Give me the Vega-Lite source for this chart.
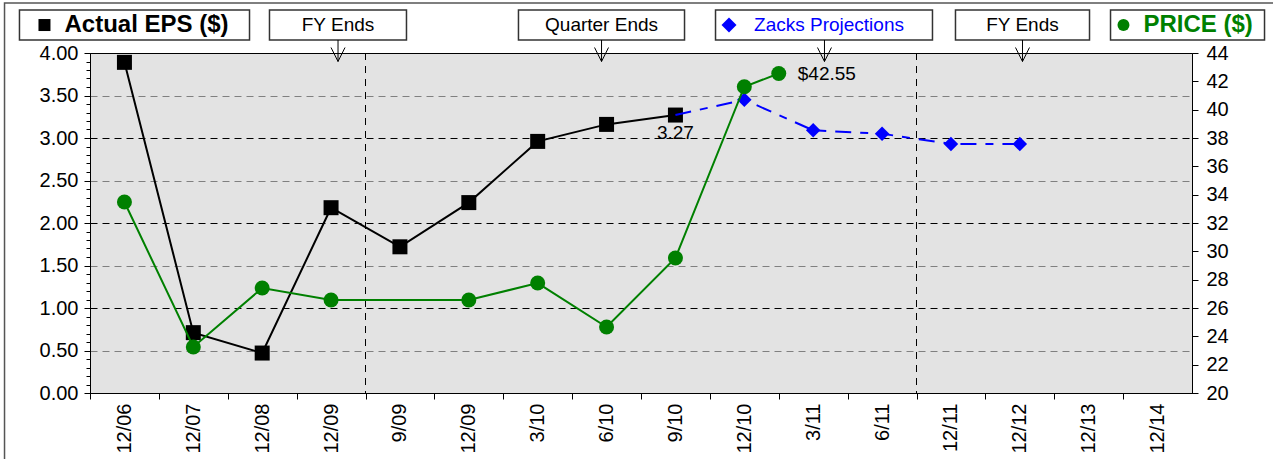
{
  "$schema": "https://vega.github.io/schema/vega-lite/v6.json",
  "width": 1102,
  "height": 340,
  "autosize": "none",
  "padding": {"left": 90, "top": 53, "right": 81, "bottom": 66},
  "background": "white",
  "config": {
    "font": "Liberation Sans",
    "view": {"fill": "#e3e3e3", "stroke": "black", "strokeWidth": 1},
    "axis": {"labelFont": "Liberation Sans", "labelColor": "black", "labelFontSize": 20, "tickColor": "black", "domainColor": "black", "title": null}
  },
  "encoding": {
    "x": {
      "field": "i",
      "type": "quantitative",
      "scale": {"domain": [-0.5, 15.5], "nice": false, "zero": false},
      "axis": {
        "values": [0, 1, 2, 3, 4, 5, 6, 7, 8, 9, 10, 11, 12, 13, 14, 15],
        "labelExpr": "['12/06','12/07','12/08','12/09','9/09','12/09','3/10','6/10','9/10','12/10','3/11','6/11','12/11','12/12','12/13','12/14'][datum.value]",
        "labelAngle": 270,
        "labelAlign": "right",
        "labelBaseline": "middle",
        "labelPadding": 4,
        "tickSize": 6,
        "tickOffset": -34.4375,
        "labelOffset": 34.4375,
        "grid": false,
        "domain": true
      }
    }
  },
  "layer": [
    {
      "data": {"values": [{"i": 3.5}, {"i": 11.5}]},
      "mark": {"type": "rule", "color": "black", "strokeWidth": 1, "strokeDash": [7, 6]},
      "encoding": {}
    },
    {
      "data": {"values": [
        {"i": 0, "v": 3.89}, {"i": 1, "v": 0.71}, {"i": 2, "v": 0.47}, {"i": 3, "v": 2.18},
        {"i": 4, "v": 1.72}, {"i": 5, "v": 2.24}, {"i": 6, "v": 2.96}, {"i": 7, "v": 3.16}, {"i": 8, "v": 3.27}
      ]},
      "mark": {"type": "line", "color": "black", "strokeWidth": 2},
      "encoding": {
        "y": {
          "field": "v", "type": "quantitative",
          "scale": {"domain": [0, 4], "nice": false, "zero": false},
          "axis": {
            "orient": "left",
            "values": [0, 0.5, 1, 1.5, 2, 2.5, 3, 3.5, 4],
            "format": ".2f",
            "tickSize": 6,
            "labelPadding": 6,
            "grid": true,
            "gridDash": [7, 5],
            "gridWidth": 1,
            "gridColor": {"condition": {"test": "datum.value % 1 === 0", "value": "black"}, "value": "#808080"}
          }
        }
      }
    },
    {
      "data": {"values": [
        {"i": 0, "v": 3.89}, {"i": 1, "v": 0.71}, {"i": 2, "v": 0.47}, {"i": 3, "v": 2.18},
        {"i": 4, "v": 1.72}, {"i": 5, "v": 2.24}, {"i": 6, "v": 2.96}, {"i": 7, "v": 3.16}, {"i": 8, "v": 3.27}
      ]},
      "mark": {"type": "point", "shape": "square", "filled": true, "color": "black", "size": 225, "opacity": 1},
      "encoding": {
        "y": {
          "field": "v", "type": "quantitative",
          "scale": {"domain": [0, 4], "nice": false, "zero": false},
          "axis": {
            "orient": "left",
            "values": [0.1, 0.2, 0.3, 0.4, 0.6, 0.7, 0.8, 0.9, 1.1, 1.2, 1.3, 1.4, 1.6, 1.7, 1.8, 1.9, 2.1, 2.2, 2.3, 2.4, 2.6, 2.7, 2.8, 2.9, 3.1, 3.2, 3.3, 3.4, 3.6, 3.7, 3.8, 3.9],
            "labels": false,
            "tickSize": 4,
            "domain": false,
            "grid": false
          }
        }
      }
    },
    {
      "data": {"values": [
        {"i": 8, "v": 3.27}, {"i": 9, "v": 3.45}, {"i": 10, "v": 3.09}, {"i": 11, "v": 3.05}, {"i": 12, "v": 2.93}, {"i": 13, "v": 2.93}
      ]},
      "mark": {"type": "line", "color": "#0000ff", "strokeWidth": 2, "strokeDash": [16, 9, 8, 9]},
      "encoding": {"y": {"field": "v", "type": "quantitative", "scale": {"domain": [0, 4], "nice": false, "zero": false}, "axis": null}}
    },
    {
      "data": {"values": [
        {"i": 9, "v": 3.45}, {"i": 10, "v": 3.09}, {"i": 11, "v": 3.05}, {"i": 12, "v": 2.93}, {"i": 13, "v": 2.93}
      ]},
      "mark": {"type": "point", "shape": "diamond", "filled": true, "color": "#0000ff", "size": 210, "opacity": 1},
      "encoding": {"y": {"field": "v", "type": "quantitative", "scale": {"domain": [0, 4], "nice": false, "zero": false}, "axis": null}}
    },
    {
      "data": {"values": [
        {"i": 0, "v": 33.48}, {"i": 1, "v": 23.25}, {"i": 2, "v": 27.41}, {"i": 3, "v": 26.56}, {"i": 5, "v": 26.56},
        {"i": 6, "v": 27.76}, {"i": 7, "v": 24.66}, {"i": 8, "v": 29.53}, {"i": 9, "v": 41.62}, {"i": 9.5, "v": 42.55}
      ]},
      "mark": {"type": "line", "color": "#008000", "strokeWidth": 2},
      "encoding": {
        "y": {
          "field": "v", "type": "quantitative",
          "scale": {"domain": [20, 44], "nice": false, "zero": false},
          "axis": {
            "orient": "right",
            "values": [20, 22, 24, 26, 28, 30, 32, 34, 36, 38, 40, 42, 44],
            "tickSize": 6,
            "labelPadding": 8,
            "grid": false
          }
        }
      }
    },
    {
      "data": {"values": [
        {"i": 0, "v": 33.48}, {"i": 1, "v": 23.25}, {"i": 2, "v": 27.41}, {"i": 3, "v": 26.56}, {"i": 5, "v": 26.56},
        {"i": 6, "v": 27.76}, {"i": 7, "v": 24.66}, {"i": 8, "v": 29.53}, {"i": 9, "v": 41.62}, {"i": 9.5, "v": 42.55}
      ]},
      "mark": {"type": "point", "shape": "circle", "filled": true, "color": "#008000", "size": 225, "opacity": 1},
      "encoding": {"y": {"field": "v", "type": "quantitative", "scale": {"domain": [20, 44], "nice": false, "zero": false}, "axis": null}}
    },
    {
      "data": {"values": [{"i": 9.5, "v": 42.55, "t": "$42.55"}]},
      "mark": {"type": "text", "font": "Liberation Sans", "fontSize": 19, "color": "black", "align": "left", "baseline": "middle", "dx": 19},
      "encoding": {
        "y": {"field": "v", "type": "quantitative", "scale": {"domain": [20, 44], "nice": false, "zero": false}, "axis": null},
        "text": {"field": "t"}
      }
    },
    {
      "data": {"values": [{"i": 8, "v": 3.27, "t": "3.27"}]},
      "mark": {"type": "text", "font": "Liberation Sans", "fontSize": 19, "color": "black", "align": "center", "baseline": "middle", "dy": 18},
      "encoding": {
        "y": {"field": "v", "type": "quantitative", "scale": {"domain": [0, 4], "nice": false, "zero": false}, "axis": null},
        "text": {"field": "t"}
      }
    },
    {
      "data": {"values": [{"i": -1.741, "i2": 17.5}]},
      "mark": {"type": "rect", "fill": null, "fillOpacity": 0, "stroke": "#555555", "strokeWidth": 1.5},
      "encoding": {
        "x2": {"field": "i2"},
        "y": {"datum": 4.588, "type": "quantitative", "scale": {"domain": [0, 4], "nice": false, "zero": false}, "axis": null},
        "y2": {"datum": -1.2}
      }
    },
    {
      "data": {"values": [
        {"i": -1.524, "i2": 1.816}, {"i": 2.106, "i2": 4.095}, {"i": 5.721, "i2": 8.132},
        {"i": 8.582, "i2": 11.732}, {"i": 12.066, "i2": 14.012}, {"i": 14.317, "i2": 16.553}
      ]},
      "mark": {"type": "rect", "fill": "white", "stroke": "#333333", "strokeWidth": 1.5},
      "encoding": {
        "x2": {"field": "i2"},
        "y": {"datum": 4.506, "type": "quantitative", "scale": {"domain": [0, 4], "nice": false, "zero": false}, "axis": null},
        "y2": {"datum": 4.153}
      }
    },
    {
      "data": {"values": [{"i": 3.101}, {"i": 6.927}, {"i": 10.164}, {"i": 13.039}]},
      "mark": {"type": "rule", "color": "black", "strokeWidth": 1},
      "encoding": {
        "y": {"datum": 4.153, "type": "quantitative", "scale": {"domain": [0, 4], "nice": false, "zero": false}, "axis": null},
        "y2": {"datum": 3.9}
      }
    },
    {
      "data": {"values": [{"i": 3.101}, {"i": 6.927}, {"i": 10.164}, {"i": 13.039}]},
      "mark": {"type": "point", "shape": "M-1,-2L0,0L1,-2", "filled": false, "stroke": "black", "strokeWidth": 1, "size": 196, "opacity": 1},
      "encoding": {
        "y": {"datum": 3.9, "type": "quantitative", "scale": {"domain": [0, 4], "nice": false, "zero": false}, "axis": null}
      }
    },
    {
      "data": {"values": [{"i": -1.161}]},
      "mark": {"type": "point", "shape": "square", "filled": true, "color": "black", "size": 144, "opacity": 1},
      "encoding": {"y": {"datum": 4.329, "type": "quantitative", "scale": {"domain": [0, 4], "nice": false, "zero": false}, "axis": null}}
    },
    {
      "data": {"values": [{"i": 8.778}]},
      "mark": {"type": "point", "shape": "diamond", "filled": true, "color": "#0000ff", "size": 225, "opacity": 1},
      "encoding": {"y": {"datum": 4.329, "type": "quantitative", "scale": {"domain": [0, 4], "nice": false, "zero": false}, "axis": null}}
    },
    {
      "data": {"values": [{"i": 14.505}]},
      "mark": {"type": "point", "shape": "circle", "filled": true, "color": "#008000", "size": 144, "opacity": 1},
      "encoding": {"y": {"datum": 4.329, "type": "quantitative", "scale": {"domain": [0, 4], "nice": false, "zero": false}, "axis": null}}
    },
    {
      "data": {"values": [{"i": -0.87, "t": "Actual EPS ($)"}]},
      "mark": {"type": "text", "font": "Liberation Sans", "fontSize": 24, "fontWeight": "bold", "color": "black", "align": "left", "baseline": "middle"},
      "encoding": {
        "y": {"datum": 4.329, "type": "quantitative", "scale": {"domain": [0, 4], "nice": false, "zero": false}, "axis": null},
        "text": {"field": "t"}
      }
    },
    {
      "data": {"values": [{"i": 3.101, "t": "FY Ends"}, {"i": 6.927, "t": "Quarter Ends"}, {"i": 13.039, "t": "FY Ends"}]},
      "mark": {"type": "text", "font": "Liberation Sans", "fontSize": 19, "color": "black", "align": "center", "baseline": "middle"},
      "encoding": {
        "y": {"datum": 4.329, "type": "quantitative", "scale": {"domain": [0, 4], "nice": false, "zero": false}, "axis": null},
        "text": {"field": "t"}
      }
    },
    {
      "data": {"values": [{"i": 9.141, "t": "Zacks Projections"}]},
      "mark": {"type": "text", "font": "Liberation Sans", "fontSize": 19, "color": "#0000ff", "align": "left", "baseline": "middle"},
      "encoding": {
        "y": {"datum": 4.329, "type": "quantitative", "scale": {"domain": [0, 4], "nice": false, "zero": false}, "axis": null},
        "text": {"field": "t"}
      }
    },
    {
      "data": {"values": [{"i": 14.796, "t": "PRICE ($)"}]},
      "mark": {"type": "text", "font": "Liberation Sans", "fontSize": 24, "fontWeight": "bold", "color": "#008000", "align": "left", "baseline": "middle"},
      "encoding": {
        "y": {"datum": 4.329, "type": "quantitative", "scale": {"domain": [0, 4], "nice": false, "zero": false}, "axis": null},
        "text": {"field": "t"}
      }
    }
  ],
  "resolve": {"scale": {"y": "independent"}}
}
